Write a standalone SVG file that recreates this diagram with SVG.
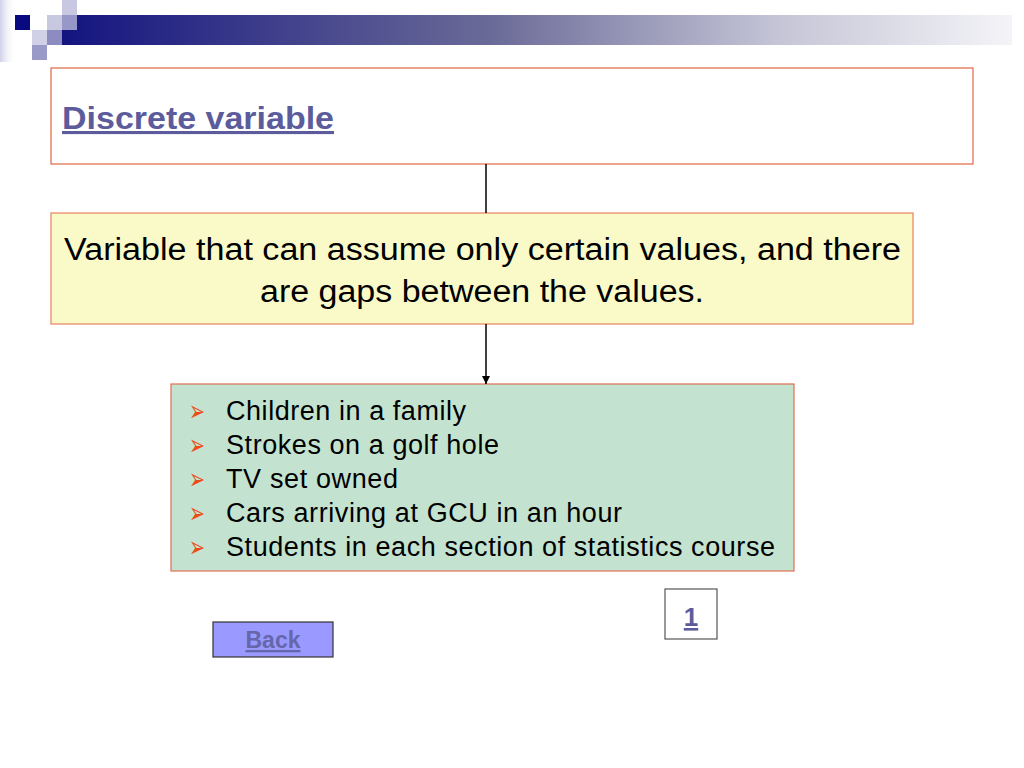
<svg xmlns="http://www.w3.org/2000/svg" width="1024" height="768" viewBox="0 0 1024 768">
<defs>
<linearGradient id="bar" x1="0" y1="0" x2="1" y2="0">
<stop offset="0" stop-color="#141480"/>
<stop offset="0.45" stop-color="#6a6a98"/>
<stop offset="0.75" stop-color="#c4c4d6"/>
<stop offset="1" stop-color="#f4f4f8"/>
</linearGradient>
<linearGradient id="stripH" x1="0" y1="0" x2="1" y2="0">
<stop offset="0" stop-color="#d0d0e8"/>
<stop offset="1" stop-color="#ffffff" stop-opacity="0"/>
</linearGradient>
<marker id="arr" markerWidth="10" markerHeight="10" refX="9" refY="5" orient="auto" markerUnits="userSpaceOnUse" viewBox="0 0 10 10">
<path d="M1,1 L9,5 L1,9 Z" fill="#000"/>
</marker>
<style>
.link{fill:#5c5c9c;font-weight:bold;text-decoration:underline}
.body{fill:#000}
.bul{fill:#f04a14;font-size:29px}
.conn{stroke:#000;stroke-width:1.5;fill:none}
</style>
</defs>
<rect width="1024" height="768" fill="#fff"/>
<g id="decoration">
<rect x="0" y="0" width="16" height="62" fill="url(#stripH)"/>
<rect x="62" y="15" width="950" height="30" fill="url(#bar)"/>
<rect x="15" y="15" width="15" height="15" fill="#0a0a80"/>
<rect x="47" y="15" width="15" height="15" fill="#c8c8e0"/>
<rect x="62" y="0" width="15" height="15" fill="#c8c8e2"/>
<rect x="62" y="15" width="15" height="15" fill="#9898c8"/>
<rect x="32" y="30" width="15" height="15" fill="#d0d0e6"/>
<rect x="47" y="30" width="15" height="15" fill="#8c8cc0"/>
<rect x="32" y="45" width="15" height="15" fill="#9a9ac8"/>
</g>
<g id="title">
<rect x="51" y="68" width="922" height="96" fill="#fff" stroke="#e06844" stroke-width="1.2"/>
<text class="link" x="62" y="129" font-family="Liberation Sans, Arial, sans-serif" font-size="31" textLength="272" lengthAdjust="spacingAndGlyphs">Discrete variable</text>
</g>
<g id="definition">
<rect x="51" y="213" width="862" height="111" fill="#fafac8" stroke="#e88060" stroke-width="1.2"/>
<text class="body" x="64" y="260" font-family="Liberation Sans, Arial, sans-serif" font-size="31" textLength="837" lengthAdjust="spacingAndGlyphs">Variable that can assume only certain values, and there</text>
<text class="body" x="260" y="302" font-family="Liberation Sans, Arial, sans-serif" font-size="31" textLength="444" lengthAdjust="spacingAndGlyphs">are gaps between the values.</text>
</g>
<g id="examples">
<rect x="171" y="384" width="623" height="187" fill="#c3e3d0" stroke="#e07050" stroke-width="1.2"/>
<g font-family="DejaVu Sans, sans-serif">
<text class="bul" x="189" y="421" textLength="16" lengthAdjust="spacingAndGlyphs">➢</text>
<text class="bul" x="189" y="455" textLength="16" lengthAdjust="spacingAndGlyphs">➢</text>
<text class="bul" x="189" y="489" textLength="16" lengthAdjust="spacingAndGlyphs">➢</text>
<text class="bul" x="189" y="523" textLength="16" lengthAdjust="spacingAndGlyphs">➢</text>
<text class="bul" x="189" y="557" textLength="16" lengthAdjust="spacingAndGlyphs">➢</text>
</g>
<g font-family="Liberation Sans, Arial, sans-serif" font-size="27" lengthAdjust="spacingAndGlyphs">
<text class="body" x="226" y="420" textLength="240">Children in a family</text>
<text class="body" x="226" y="454" textLength="273">Strokes on a golf hole</text>
<text class="body" x="226" y="488" textLength="172">TV set owned</text>
<text class="body" x="226" y="522" textLength="396">Cars arriving at GCU in an hour</text>
<text class="body" x="226" y="556" textLength="549">Students in each section of statistics course</text>
</g>
</g>
<g id="page-number">
<rect x="665" y="589" width="52" height="50" fill="#fff" stroke="#555" stroke-width="1.2"/>
<text class="link" x="691" y="626" font-family="Liberation Sans, Arial, sans-serif" font-size="26" text-anchor="middle">1</text>
</g>
<g id="back-button">
<rect x="213" y="622" width="120" height="35" fill="#9999ff" stroke="#333" stroke-width="1.2"/>
<text class="link" x="273" y="648" font-family="Liberation Sans, Arial, sans-serif" font-size="23" text-anchor="middle" style="fill:#6666aa">Back</text>
</g>
<g id="connectors">
<line class="conn" x1="486" y1="164" x2="486" y2="213"/>
<line class="conn" x1="486" y1="324" x2="486" y2="384" marker-end="url(#arr)"/>
</g>
</svg>
